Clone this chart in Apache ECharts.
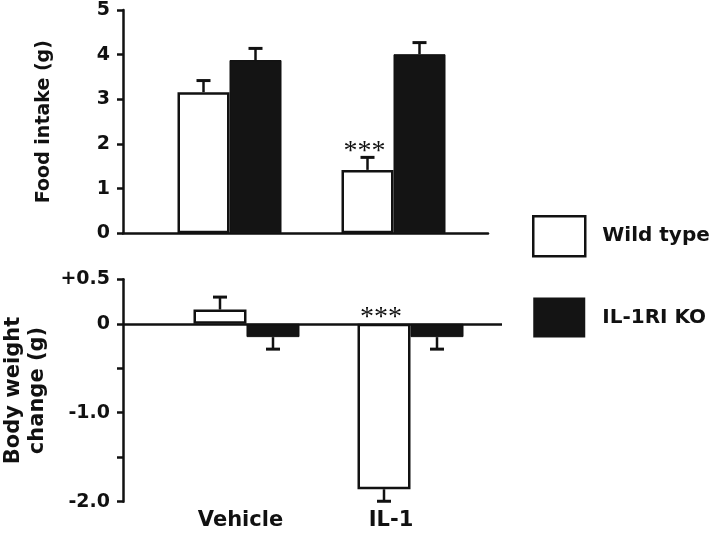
<!DOCTYPE html>
<html>
<head>
<meta charset="utf-8">
<title>Food intake and body weight change</title>
<script src="https://cdn.jsdelivr.net/npm/echarts@6/dist/echarts.min.js"></script>
<style>
  html, body { margin: 0; padding: 0; background: #fff; }
  #chart { width: 720px; height: 534px; }
</style>
</head>
<body>
<div id="chart"></div>
<script>
// 組別與數據
const categories = ['Vehicle', 'IL-1'];
const seriesNames = ['Wild type', 'IL-1RI KO'];

// 上圖：攝食量 (g)
const wtFood = [3.16, 1.42];
const wtFoodErr = [0.26, 0.28];
const koFood = [3.88, 4.01];
const koFoodErr = [0.26, 0.26];
const foodSig = ['', '***'];

// 下圖：體重變化 (g)
const wtWeight = [0.16, -1.86];
const wtWeightErr = [0.14, 0.135];
const koWeight = [-0.15, -0.15];
const koWeightErr = [0.135, 0.135];
const weightSig = ['', '***'];

const weightTicks = [-2, -1.5, -1, -0.5, 0, 0.5];
const weightTickLabels = ['-2.0', '', '-1.0', '', '0', '+0.5'];

const FONT = '"DejaVu Sans", "Liberation Sans", sans-serif';
const INK = '#111';
const KO_FILL = '#141414';

// 組別位置 (1, 2, ...)
const pos = categories.map((_, i) => i + 1);
const toPoints = (vals) => vals.map((v, i) => [pos[i], v]);

/**
 * 誤差線 (只畫朝外的一側) + 顯著性星號
 */
function errorSeries(name, idx, vals, errs, side, barW, sig) {
  return {
    name: name,
    type: 'custom',
    xAxisIndex: idx,
    yAxisIndex: idx,
    silent: true,
    z: 5,
    data: vals.map((v, i) => [pos[i], v, errs[i]]),
    renderItem: function (params, api) {
      const x = api.value(0);
      const v = api.value(1);
      const e = api.value(2);
      const dir = v >= 0 ? 1 : -1;
      const base = api.coord([x, v]);
      const tip = api.coord([x, v + dir * e]);
      const cx = base[0] + side * barW / 2;
      const children = [
        { type: 'line', shape: { x1: cx, y1: base[1], x2: cx, y2: tip[1] },
          style: { stroke: INK, lineWidth: 2.5 } },
        { type: 'line', shape: { x1: cx - 7, y1: tip[1], x2: cx + 7, y2: tip[1] },
          style: { stroke: INK, lineWidth: 3 } }
      ];
      const label = sig ? sig[params.dataIndex] : '';
      if (label) {
        const topY = Math.min(tip[1], api.coord([x, 0])[1]);
        children.push({
          type: 'text', x: cx - 3, y: topY - 6,
          style: { text: label, font: '28px "Liberation Serif", serif', fill: INK,
                   align: 'center', verticalAlign: 'middle' }
        });
      }
      return { type: 'group', children: children };
    }
  };
}

const wtStyle = { color: '#fff', borderColor: INK, borderWidth: 2.5 };
const koStyle = { color: KO_FILL, borderColor: INK, borderWidth: 1 };

const TOP_BAR = 52;
const BOT_BAR = 53;

const option = {
  animation: false,
  backgroundColor: '#fff',
  textStyle: { fontFamily: FONT },
  grid: [
    { left: 123, top: 10, width: 365, height: 223.3, outerBoundsMode: 'none' },
    { left: 123, top: 279.3, width: 379, height: 222.4, outerBoundsMode: 'none' }
  ],
  legend: {
    orient: 'vertical',
    left: 532,
    top: 215,
    padding: 0,
    itemWidth: 52,
    itemHeight: 40,
    itemGap: 40,
    icon: 'rect',
    selectedMode: false,
    textStyle: { fontFamily: FONT, fontSize: 20, fontWeight: 'bold', color: INK, padding: [0, 0, 0, 12] },
    data: [
      { name: seriesNames[0], itemStyle: wtStyle },
      { name: seriesNames[1], itemStyle: { color: KO_FILL, borderColor: KO_FILL, borderWidth: 0 } }
    ]
  },
  xAxis: [
    {
      gridIndex: 0, type: 'value', min: 0.3506, max: 2.5762,
      splitLine: { show: false },
      axisLine: { show: true, onZero: false, lineStyle: { color: INK, width: 2.5 } },
      axisTick: { show: false },
      axisLabel: { show: false }
    },
    {
      gridIndex: 1, type: 'value', min: 0.247, max: 2.5579,
      splitLine: { show: false },
      axisLine: { show: false, onZero: false },
      axisTick: { show: false },
      axisLabel: {
        customValues: [0.9634, 1.881],
        formatter: (v) => categories[Math.round(v) - 1] || '',
        margin: 8,
        fontFamily: FONT, fontSize: 21, fontWeight: 'bold', color: INK
      }
    }
  ],
  yAxis: [
    {
      gridIndex: 0, type: 'value', min: 0, max: 5, interval: 1,
      name: 'Food intake (g)',
      nameLocation: 'middle',
      nameGap: 69,
      nameTextStyle: { fontFamily: FONT, fontSize: 19, fontWeight: 'bold', color: INK },
      splitLine: { show: false },
      axisLine: { show: true, onZero: false, lineStyle: { color: INK, width: 2.5 } },
      axisTick: { show: true, length: 6, lineStyle: { color: INK, width: 2.5 } },
      axisLabel: { margin: 13, fontFamily: FONT, fontSize: 19, fontWeight: 'bold', color: INK }
    },
    {
      gridIndex: 1, type: 'value', min: -2, max: 0.5, interval: 0.5,
      name: 'Body weight\nchange (g)',
      nameLocation: 'middle',
      nameGap: 67,
      nameTextStyle: { fontFamily: FONT, fontSize: 21, fontWeight: 'bold', color: INK, lineHeight: 24 },
      splitLine: { show: false },
      axisLine: { show: true, onZero: false, lineStyle: { color: INK, width: 2.5 } },
      axisTick: { show: true, length: 6, lineStyle: { color: INK, width: 2.5 } },
      axisLabel: {
        margin: 13, fontFamily: FONT, fontSize: 19, fontWeight: 'bold', color: INK,
        formatter: (v) => {
          const i = weightTicks.findIndex((t) => Math.abs(t - v) < 1e-6);
          return i >= 0 ? weightTickLabels[i] : '';
        }
      }
    }
  ],
  series: [
    // 上圖
    { name: seriesNames[0], type: 'bar', xAxisIndex: 0, yAxisIndex: 0, barWidth: TOP_BAR, barGap: '0%',
      itemStyle: wtStyle, data: toPoints(wtFood) },
    { name: seriesNames[1], type: 'bar', xAxisIndex: 0, yAxisIndex: 0, barWidth: TOP_BAR, barGap: '0%',
      itemStyle: koStyle, data: toPoints(koFood) },
    errorSeries(seriesNames[0], 0, wtFood, wtFoodErr, -1, TOP_BAR, foodSig),
    errorSeries(seriesNames[1], 0, koFood, koFoodErr, 1, TOP_BAR, null),

    // 下圖
    { name: seriesNames[0], type: 'bar', xAxisIndex: 1, yAxisIndex: 1, barWidth: BOT_BAR, barGap: '0%',
      itemStyle: wtStyle, data: toPoints(wtWeight),
      markLine: {
        silent: true, symbol: 'none', label: { show: false },
        lineStyle: { color: INK, width: 2.5, type: 'solid' },
        data: [{ yAxis: 0 }]
      } },
    { name: seriesNames[1], type: 'bar', xAxisIndex: 1, yAxisIndex: 1, barWidth: BOT_BAR, barGap: '0%',
      itemStyle: koStyle, data: toPoints(koWeight) },
    errorSeries(seriesNames[0], 1, wtWeight, wtWeightErr, -1, BOT_BAR, weightSig),
    errorSeries(seriesNames[1], 1, koWeight, koWeightErr, 1, BOT_BAR, null)
  ]
};

const chart = echarts.init(document.getElementById('chart'), null, { renderer: 'canvas' });
chart.setOption(option);
window.addEventListener('resize', () => chart.resize());
</script>
</body>
</html>
